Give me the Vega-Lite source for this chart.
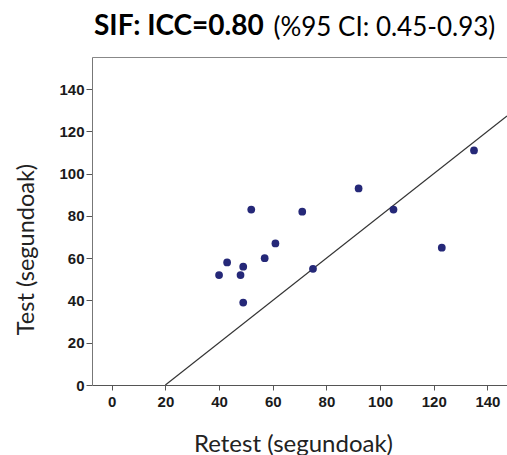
{
  "$schema": "https://vega.github.io/schema/vega-lite/v6.json",
  "width": 415,
  "height": 328,
  "autosize": "none",
  "padding": {"left": 92, "top": 57, "right": 0, "bottom": 70},
  "background": "white",
  "config": {"view": {"stroke": null}},
  "title": {
    "text": "SIF: ICC=0.80",
    "anchor": "start",
    "font": "Lato",
    "fontSize": 28,
    "fontWeight": "bold",
    "color": "#000000",
    "baseline": "alphabetic",
    "offset": 0,
    "dx": 80,
    "dy": 49
  },
  "datasets": {
    "pts": [
      {"retest": 40, "test": 52},
      {"retest": 43, "test": 58},
      {"retest": 48, "test": 52},
      {"retest": 49, "test": 56},
      {"retest": 49, "test": 39},
      {"retest": 52, "test": 83},
      {"retest": 57, "test": 60},
      {"retest": 61, "test": 67},
      {"retest": 71, "test": 82},
      {"retest": 75, "test": 55},
      {"retest": 92, "test": 93},
      {"retest": 105, "test": 83},
      {"retest": 123, "test": 65},
      {"retest": 135, "test": 111}
    ],
    "fit": [
      {"retest": 20, "test": 0},
      {"retest": 147.3, "test": 127.3}
    ]
  },
  "layer": [
    {
      "data": {"name": "fit"},
      "mark": {"type": "line", "color": "#333333", "strokeWidth": 1.2, "clip": true},
      "encoding": {
        "x": {"field": "retest", "type": "quantitative", "axis": null, "scale": {"domain": [-7.35, 147.3], "nice": false, "zero": false}},
        "y": {
          "field": "test",
          "type": "quantitative",
          "scale": {"domain": [0, 155.2], "nice": false},
          "axis": {
            "values": [0, 20, 40, 60, 80, 100, 120, 140],
            "grid": false,
            "domainColor": "#777777",
            "tickColor": "#555555",
            "tickSize": 6,
            "labelFont": "Liberation Sans",
            "labelFontWeight": "bold",
            "labelFontSize": 15,
            "labelColor": "#1a1a1a",
            "labelPadding": 2,
            "labelFlush": false,
            "title": "Test (segundoak)",
            "titleFont": "Lato",
            "titleFontSize": 23.5,
            "titleFontWeight": "normal",
            "titleColor": "#222222",
            "titleX": -59,
            "titleY": 192,
            "titleBaseline": "alphabetic",
            "titleAlign": "center",
            "titleAngle": 270
          }
        }
      }
    },
    {
      "data": {"name": "pts"},
      "mark": {"type": "circle", "size": 60, "color": "#252878", "opacity": 1},
      "encoding": {
        "x": {
          "field": "retest",
          "type": "quantitative",
          "axis": {
            "values": [0, 20, 40, 60, 80, 100, 120, 140],
            "grid": false,
            "domainColor": "#555555",
            "tickColor": "#555555",
            "tickSize": 5,
            "labelFont": "Liberation Sans",
            "labelFontWeight": "bold",
            "labelFontSize": 15,
            "labelColor": "#1a1a1a",
            "labelPadding": 4,
            "labelFlush": false,
            "title": "Retest (segundoak)",
            "titleFont": "Lato",
            "titleFontSize": 24,
            "titleFontWeight": "normal",
            "titleColor": "#222222",
            "titleX": 201,
            "titleY": 66,
            "titleBaseline": "alphabetic",
            "titleAlign": "center"
          }
        },
        "y": {"field": "test", "type": "quantitative"}
      }
    },
    {
      "data": {"values": [{}]},
      "mark": {"type": "rule", "opacity": 0},
      "encoding": {
        "x": {
          "datum": 0,
          "type": "quantitative",
          "axis": {
            "orient": "top",
            "ticks": false,
            "labels": false,
            "grid": false,
            "domainColor": "#888888",
            "title": "(%95 CI: 0.45-0.93)",
            "titleFont": "Lato",
            "titleFontSize": 26,
            "titleFontWeight": "normal",
            "titleColor": "#000000",
            "titleX": 181,
            "titleY": -22,
            "titleAlign": "left",
            "titleBaseline": "alphabetic"
          }
        }
      }
    }
  ],
  "resolve": {"axis": {"x": "independent"}}
}
